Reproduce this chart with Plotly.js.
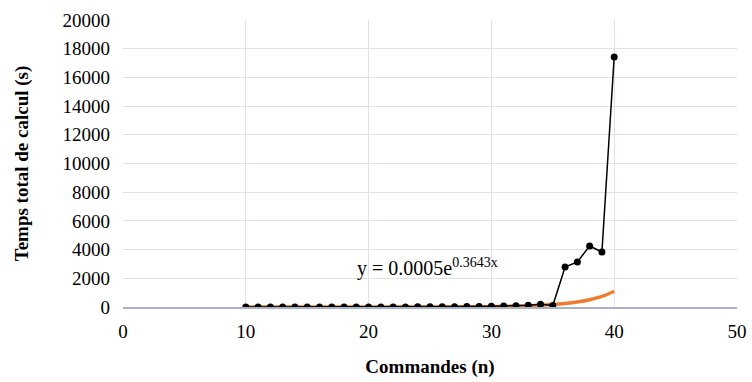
<!DOCTYPE html>
<html><head><meta charset="utf-8">
<script src="https://cdn.plot.ly/plotly-3.0.1.min.js"></script>
<style>html,body{margin:0;padding:0;background:#fff}#chart{width:752px;height:382px}</style>
</head><body><div id="chart"></div>
<script>
const commandes = [10,11,12,13,14,15,16,17,18,19,20,21,22,23,24,25,26,27,28,29,30,31,32,33,34,35,36,37,38,39,40];
const tempsCalcul = [1,1,1,1,1,1,1,2,2,3,4,5,6,8,10,13,17,22,30,40,55,70,95,120,200,100,2790,3140,4250,3830,17420];
const tendanceX = [10,15,20,25,28,30,32,33,34,35,36,37,38,39,40];
const tendanceY = [0.02,0.12,0.73,4.5,13,27,57,82,118,170,246,354,510,735,1100];
const equation = "y = 0.0005e<sup>0.3643x</sup>";

const serif = "Liberation Serif, Times New Roman, serif";
const data = [
  {x: tendanceX, y: tendanceY, type:'scatter', mode:'lines', line:{color:'#ED7D31', width:3.5, shape:'spline'}, hoverinfo:'skip'},
  {x: commandes, y: tempsCalcul, type:'scatter', mode:'lines+markers', line:{color:'#000', width:1.5}, marker:{color:'#000', size:7}}
];
const layout = {
  width:752, height:382, showlegend:false,
  margin:{l:123, r:15, t:20, b:75},
  paper_bgcolor:'#fff', plot_bgcolor:'#fff',
  font:{family:serif, size:19, color:'#000'},
  xaxis:{range:[0,50], dtick:10, tick0:0, showgrid:true, gridcolor:'#dde2ea', gridwidth:1,
    zeroline:false, showline:true, linecolor:'#a9b3c6', linewidth:1.5, ticks:'', ticklabelstandoff:7,
    tickfont:{family:serif, size:19, color:'#000'}, title:{text:'<b>Commandes (n)</b>', font:{family:serif, size:19, color:'#000'}, standoff:18}},
  yaxis:{range:[0,20000], dtick:2000, tick0:0, showgrid:true, gridcolor:'#dde2ea', gridwidth:1,
    zeroline:false, showline:false, ticks:'', tickformat:'d', ticklabelstandoff:12,
    tickfont:{family:serif, size:19, color:'#000'}, title:{text:'<b>Temps total de calcul (s)</b>', font:{family:serif, size:19, color:'#000'}, standoff:28}},
  annotations:[{x:18.9, y:2750, xref:'x', yref:'y', text:equation, showarrow:false, xanchor:'left', yanchor:'middle',
    font:{family:serif, size:20, color:'#000'}}]
};
Plotly.newPlot('chart', data, layout, {displayModeBar:false, staticPlot:true});
</script></body></html>
